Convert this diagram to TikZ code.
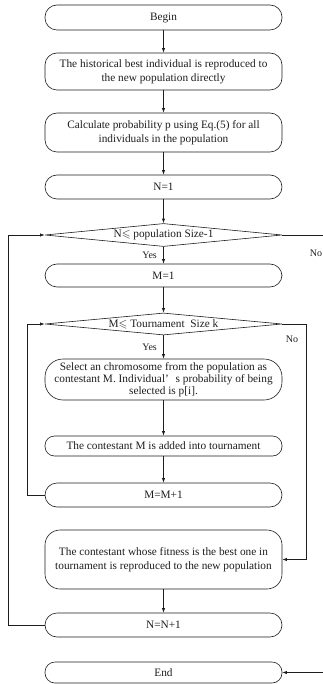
\documentclass[tikz,border=0pt]{standalone}
\usepackage{fontspec}
\usepackage{amssymb}
\setmainfont{Liberation Serif}
\usetikzlibrary{arrows.meta,positioning,shapes.geometric}
\definecolor{GaInk}{RGB}{30,30,30}
\tikzset{
  ga/box/.style={
    draw=GaInk,
    line width=0.6pt,
    rounded corners=12pt,
    fill=white,
    align=center,
    text=GaInk,
    minimum width=237pt,
    inner sep=0pt,
    font=\fontsize{11.3}{14}\selectfont
  },
  ga/test/.style={
    diamond,
    aspect=10,
    draw=GaInk,
    line width=0.6pt,
    fill=white,
    text=GaInk,
    inner sep=0pt,
    minimum width=237pt,
    minimum height=23pt,
    font=\fontsize{11.3}{14}\selectfont
  },
  ga/arrow/.style={-{Latex[length=4.5pt,width=3.2pt]}, line width=0.6pt, draw=GaInk},
  ga/tinylabel/.style={font=\fontsize{10}{12}\selectfont, text=GaInk}
}

\begin{document}
\begin{tikzpicture}[x=1pt,y=-1pt]
  \useasboundingbox (0,0) rectangle (322,684);
  \node[ga/box,minimum height=25pt] (begin) at (163.5,17.5) {Begin};
  \node[ga/box,minimum height=37pt] (hist) at (163.5,71.5) {The historical best individual is reproduced to\\the new population directly};
  \node[ga/box,minimum height=39pt] (calc) at (163.5,132.5) {Calculate probability p using Eq.(5) for all\\individuals in the population};
  \node[ga/box,minimum height=24pt] (n1) at (163.5,187) {N=1};
  \node[ga/test] (popcheck) at (163.5,235) {N\ensuremath{\leqslant} population Size-1};
  \node[ga/box,minimum height=23pt] (m1) at (163.5,275.5) {M=1};
  \node[ga/test,minimum height=22pt] (sizecheck) at (163.5,324) {M\ensuremath{\leqslant} Tournament\ \ Size k};
  \node[ga/box,minimum height=41pt,rounded corners=18pt,font=\fontsize{11.3}{12.2}\selectfont] (pick) at (163.5,379.5) {Select an chromosome from the population as\\contestant M. Individual’\hspace{0.6em}s probability of being\\selected is p[i].};
  \node[ga/box,minimum height=20pt,rounded corners=9.5pt] (add) at (163.5,446) {The contestant M is added into tournament};
  \node[ga/box,minimum height=24pt] (mnext) at (163.5,495) {M=M+1};
  \node[ga/box,minimum height=59pt,rounded corners=15pt] (winner) at (163.5,559.5) {The contestant whose fitness is the best one in\\tournament is reproduced to the new population};
  \node[ga/box,minimum height=24pt] (nnext) at (163.5,625) {N=N+1};
  \node[ga/box,minimum height=21pt,rounded corners=10pt] (end) at (163.5,672.5) {End};

  % main column
  \draw[ga/arrow] (begin) -- (hist);
  \draw[ga/arrow] (hist) -- (calc);
  \draw[ga/arrow] (calc) -- (n1);
  \draw[ga/arrow] (n1) -- (popcheck);
  \draw[ga/arrow] (popcheck) -- node[ga/tinylabel,left=3pt] {Yes} (m1);
  \draw[ga/arrow] (m1) -- (sizecheck);
  \draw[ga/arrow] (sizecheck) -- node[ga/tinylabel,left=3pt] {Yes} (pick);
  \draw[ga/arrow] (pick) -- (add);
  \draw[ga/arrow] (add) -- (mnext);
  \draw[ga/arrow] (winner) -- (nnext);

  % loops back to the tests
  \draw[ga/arrow] (mnext.west) -- ++(-17,0) |- (sizecheck.west);
  \draw[ga/arrow] (nnext.west) -- ++(-36,0) |- (popcheck.west);

  % exits of the tests
  \draw[ga/arrow] (sizecheck.east) -- ++(24,0) |- (winner.east);
  \node[ga/tinylabel] (sizeno) at (292,339) {No};
  \draw[ga/arrow] (popcheck.east) -- ++(44,0) |- (end.east);
  \node[ga/tinylabel] (popno) at (316,253) {No};
\end{tikzpicture}
\end{document}
